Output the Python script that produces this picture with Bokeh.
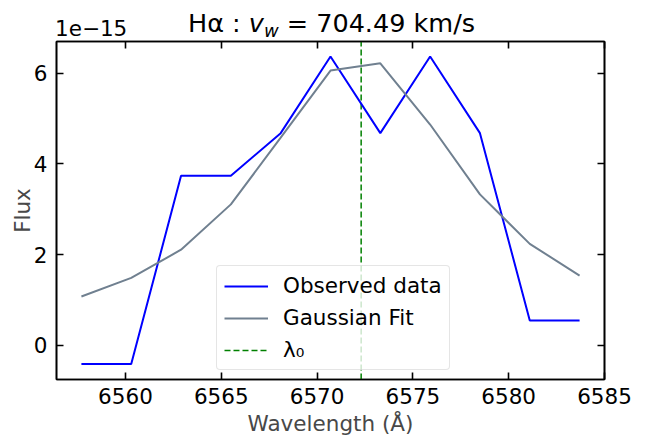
from bokeh.plotting import figure
from bokeh.models import (Range1d, LinearAxis, SingleIntervalTicker, Div,
                          Legend, LegendItem)
from bokeh.layouts import column
from bokeh.embed import file_html
from bokeh.resources import INLINE

# ---- data (flux in units of 1e-15) ----
wavelength = [6557.7, 6560.3, 6562.9, 6565.5, 6568.1, 6570.7,
              6573.3, 6575.9, 6578.5, 6581.1, 6583.7]
observed = [-0.41, -0.41, 3.74, 3.74, 4.68, 6.37, 4.68, 6.37, 4.68, 0.55, 0.55]
gaussian = [1.08, 1.49, 2.11, 3.11, 4.58, 6.06, 6.22, 4.87, 3.33, 2.24, 1.54]
lambda0 = 6572.3
x_lo, x_hi = 6556.4, 6585.0
y_lo, y_hi = -0.75, 6.70
flux_exponent = "1e\u221215"
series_labels = ["Observed data", "Gaussian Fit", "\u03bb\u2080"]
title_main = "H\u03b1"
title_var = "v"
title_sub = "w"
title_value = "704.49 km/s"
x_label = "Wavelength (\u00c5)"
y_label = "Flux"

FONT = "DejaVu Sans"
TICK = "21.5px"
LABEL_COLOR = "#484848"
HEAD_H = 37

# ---- header (offset text + title) ----
html = (
    '<div style="position:relative;width:648px;height:%dpx;'
    'font-family:\'DejaVu Sans\';color:#000;">' % HEAD_H
    + '<span style="position:absolute;left:55px;top:17.8px;font-size:21.5px;'
      'line-height:21.5px;white-space:nowrap;">%s</span>' % flux_exponent
    + '<span style="position:absolute;left:188px;top:11.4px;font-size:25.5px;'
      'line-height:25.5px;white-space:nowrap;">%s : <i>%s</i>'
      '<i style="font-size:18px;vertical-align:-5px;line-height:0;">%s</i>'
      ' = %s</span>' % (title_main, title_var, title_sub, title_value)
    + '</div>'
)
head = Div(text=html, width=648, height=HEAD_H, margin=0)

p = figure(width=648, height=438 - HEAD_H, output_backend="svg",
           toolbar_location=None,
           x_range=Range1d(x_lo, x_hi), y_range=Range1d(y_lo, y_hi),
           min_border_left=56, min_border_right=44, min_border_top=2,
           min_border_bottom=58, x_axis_location=None, y_axis_location=None,
           margin=0)
p.grid.visible = False
p.outline_line_color = "black"
p.outline_line_width = 1.6
p.background_fill_color = "white"
p.border_fill_color = "white"

def style_axis(ax, labels=True):
    ax.major_tick_in = 7
    ax.major_tick_out = 0
    ax.minor_tick_line_color = None
    ax.major_tick_line_width = 1.6
    ax.major_tick_line_color = "black"
    ax.axis_line_width = 1.6
    ax.axis_line_color = "black"
    if labels:
        ax.major_label_text_font = FONT
        ax.major_label_text_font_size = TICK
        ax.major_label_text_color = "black"
        ax.axis_label_text_font = FONT
        ax.axis_label_text_font_size = TICK
        ax.axis_label_text_font_style = "normal"
        ax.axis_label_text_color = LABEL_COLOR
    else:
        ax.major_label_text_font_size = "0px"
        ax.major_label_standoff = 0

xt = SingleIntervalTicker(interval=5)
yt = SingleIntervalTicker(interval=2)

xb = LinearAxis(ticker=xt, axis_label=x_label); style_axis(xb)
xb.major_label_standoff = 4
xb.axis_label_standoff = 4
yl = LinearAxis(ticker=yt, axis_label=y_label); style_axis(yl)
yl.major_label_standoff = 5
yl.axis_label_standoff = -4
xa = LinearAxis(ticker=xt); style_axis(xa, False)
yr = LinearAxis(ticker=yt); style_axis(yr, False)
p.add_layout(xb, "below")
p.add_layout(yl, "left")
p.add_layout(xa, "above")
p.add_layout(yr, "right")

r_l0 = p.line([lambda0, lambda0], [y_lo, y_hi], line_color="green",
              line_dash="6 3", line_width=1.5)
r_obs = p.line(wavelength, observed, line_color="#0000ff", line_width=2)
r_fit = p.line(wavelength, gaussian, line_color="#708090", line_width=2)

legend = Legend(items=[LegendItem(label=series_labels[0], renderers=[r_obs]),
                       LegendItem(label=series_labels[1], renderers=[r_fit]),
                       LegendItem(label=series_labels[2], renderers=[r_l0])],
                location=(160, 9), margin=0, padding=7, spacing=7,
                glyph_width=44, glyph_height=24, label_height=24,
                label_standoff=15, label_text_font=FONT,
                label_text_font_size=TICK, label_text_color="black",
                border_line_color="#cccccc", border_line_width=1,
                background_fill_color="white", background_fill_alpha=0.8,
                border_radius=4)
p.add_layout(legend)

layout = column(head, p, spacing=0, margin=0)
open("out.html", "w").write(file_html(layout, INLINE))
